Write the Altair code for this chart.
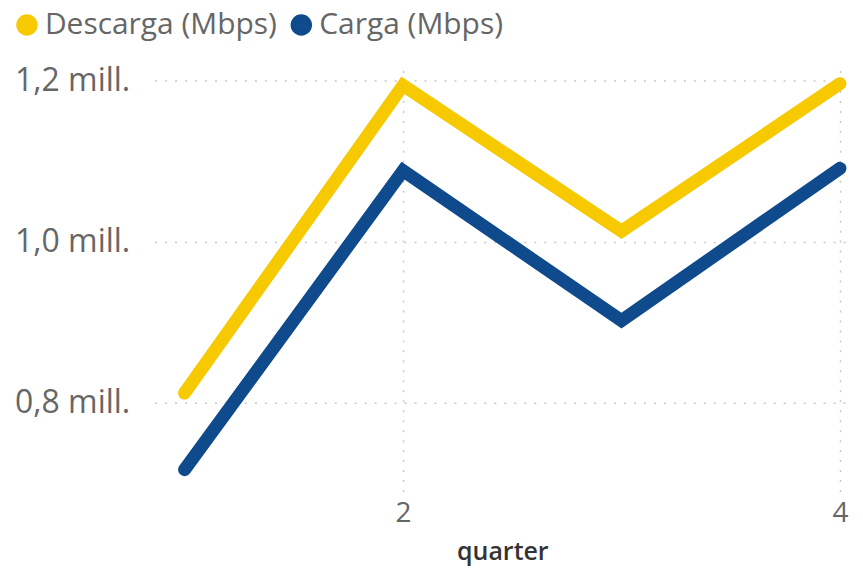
import altair as alt
import pandas as pd

quarters = [1, 2, 3, 4]
descarga = [812000, 1194000, 1013000, 1196000]
carga = [717000, 1088000, 902000, 1091000]
series_names = ["Descarga (Mbps)", "Carga (Mbps)"]
series_colors = ["#F6C900", "#0E4A8C"]
y_ticks = [800000, 1000000, 1200000]
x_ticks = [2, 4]

rows = []
for name, vals in zip(series_names, [descarga, carga]):
    for q, v in zip(quarters, vals):
        rows.append({"quarter": q, "value": v, "series": name})
df = pd.DataFrame(rows)

FONT = "Open Sans"

chart = alt.Chart(df).mark_line(
    strokeWidth=13, strokeCap="round", strokeJoin="miter"
).encode(
    x=alt.X("quarter:Q",
            scale=alt.Scale(domain=[0.863, 4.046], nice=False, zero=False),
            axis=alt.Axis(values=x_ticks, title="quarter", domain=False, ticks=False,
                          labelFontSize=28, labelColor="#666666", labelPadding=2,
                          labelFont=FONT, titleFont=FONT, titleFontSize=25,
                          titleFontWeight=600, titleColor="#333333", titlePadding=12,
                          grid=True, gridDash=[2, 8], gridColor="#c8c8c8", gridWidth=1.5)),
    y=alt.Y("value:Q",
            scale=alt.Scale(domain=[682400, 1212400], nice=False, zero=False),
            axis=alt.Axis(values=y_ticks, title=None, domain=False, ticks=False,
                          labelExpr="replace(format(datum.value/1000000, '.1f'), '.', ',') + ' mill.'",
                          labelFontSize=32, labelColor="#666666", labelPadding=25,
                          labelFont=FONT, labelLimit=300,
                          grid=True, gridDash=[2, 8], gridColor="#c8c8c8", gridWidth=1.5)),
    color=alt.Color("series:N",
                    scale=alt.Scale(domain=series_names, range=series_colors),
                    sort=series_names,
                    legend=alt.Legend(title=None, orient="none", direction="horizontal",
                                      legendX=-143, legendY=-61,
                                      symbolType="circle", symbolSize=110,
                                      symbolStrokeWidth=11, labelFontSize=30,
                                      labelFont=FONT, labelColor="#666666",
                                      labelLimit=400,
                                      labelOffset=3, columnPadding=-4)),
    order=alt.Order("quarter:Q"),
).properties(
    width=697, height=428,
    autosize=alt.AutoSizeParams(type="none"),
    padding={"left": 147, "top": 62, "right": 5, "bottom": 72},
).configure_view(stroke=None)

chart.save("out.html", embed_options={"renderer": "svg", "actions": False})
